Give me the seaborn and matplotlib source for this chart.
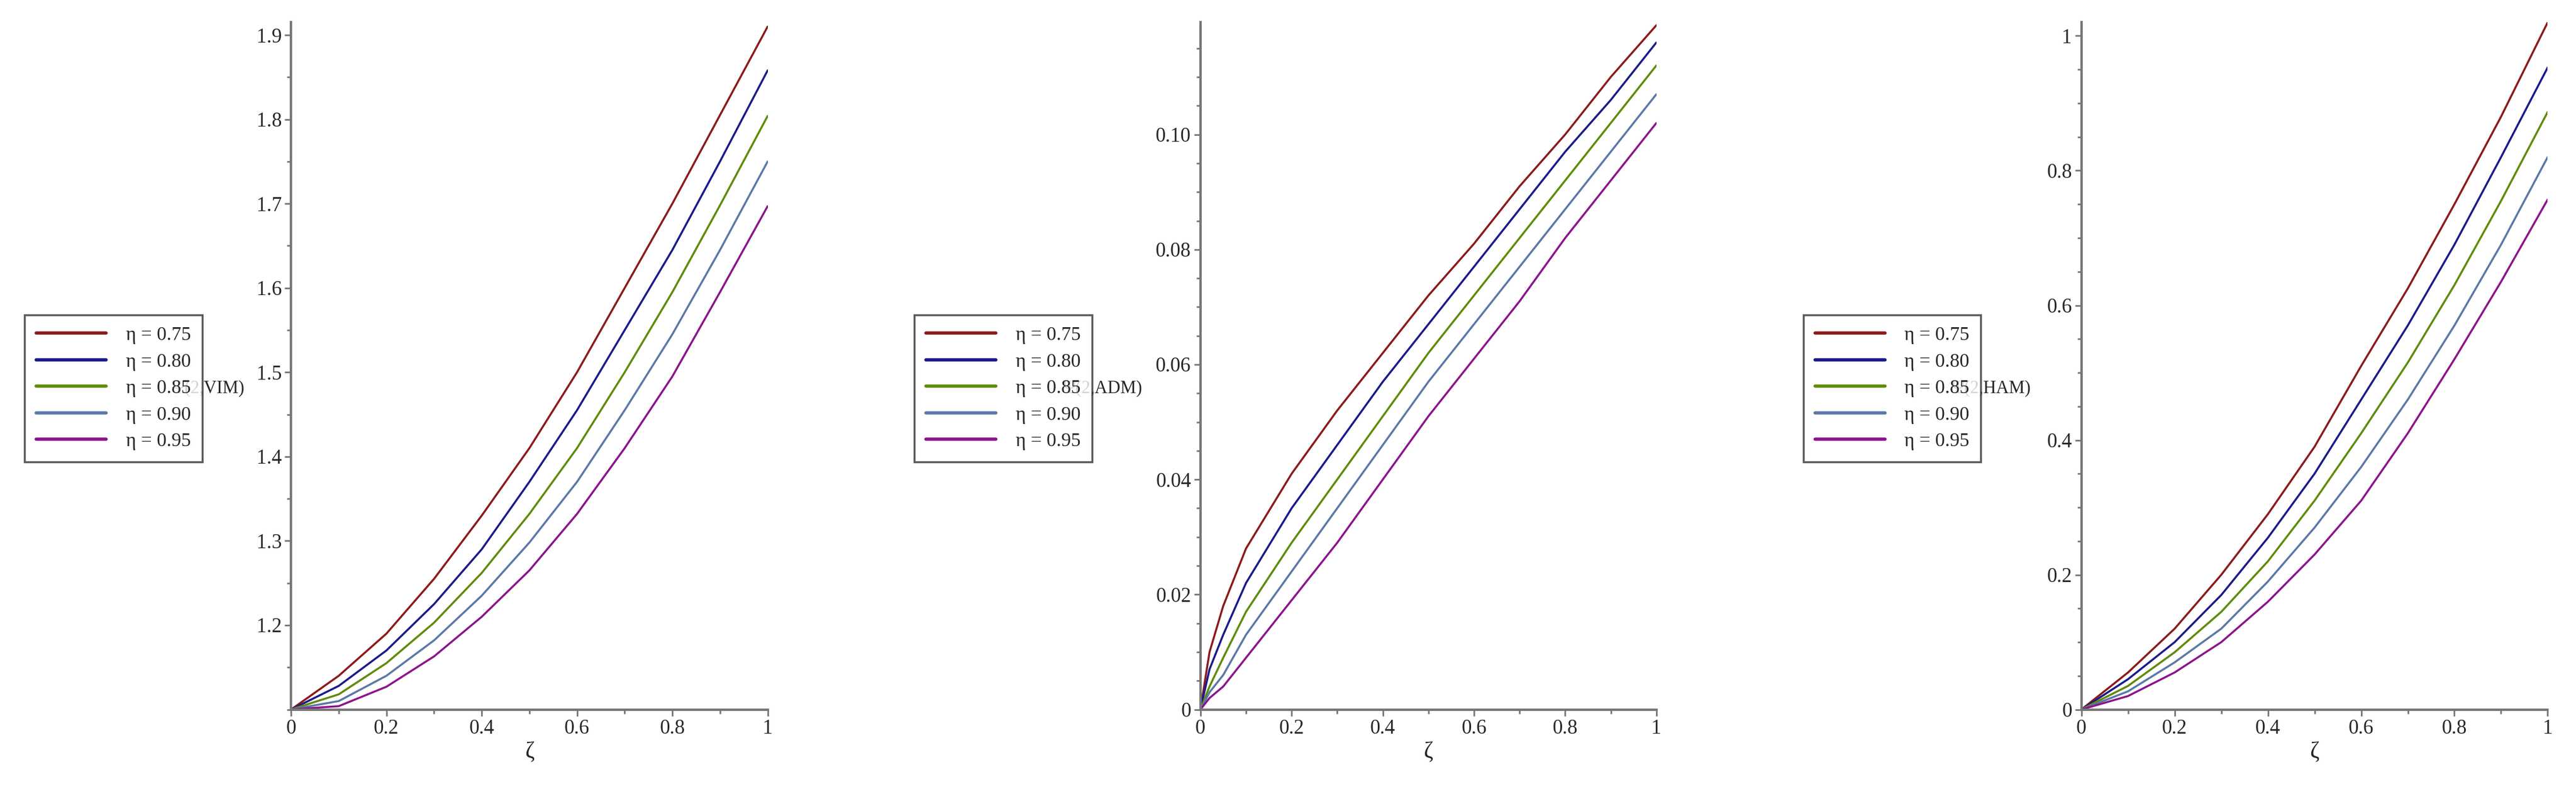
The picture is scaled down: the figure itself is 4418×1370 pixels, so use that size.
import numpy as np
import pandas as pd
import matplotlib
matplotlib.use("Agg")
import matplotlib.pyplot as plt
import seaborn as sns
from matplotlib.ticker import MultipleLocator

zeta = [0, 0.1, 0.2, 0.3, 0.4, 0.5, 0.6, 0.7, 0.8, 0.9, 1.0]
zeta_adm = [0, 0.02, 0.05, 0.1, 0.2, 0.3, 0.4, 0.5, 0.6, 0.7, 0.8, 0.9, 1.0]
etas = ["η = 0.75", "η = 0.80", "η = 0.85", "η = 0.90", "η = 0.95"]
colors = ["#8b1a1a", "#1a1a8b", "#5f8b0a", "#5a78a8", "#8b148b"]

vim = [
    [1.10, 1.140, 1.190, 1.255, 1.330, 1.410, 1.500, 1.600, 1.700, 1.805, 1.910],
    [1.10, 1.128, 1.170, 1.225, 1.290, 1.370, 1.455, 1.550, 1.645, 1.750, 1.858],
    [1.10, 1.118, 1.155, 1.203, 1.262, 1.332, 1.410, 1.500, 1.595, 1.698, 1.804],
    [1.10, 1.110, 1.140, 1.182, 1.235, 1.298, 1.370, 1.455, 1.545, 1.645, 1.750],
    [1.10, 1.104, 1.127, 1.163, 1.210, 1.265, 1.332, 1.410, 1.495, 1.595, 1.697],
]
adm = [
    [0, 0.010, 0.018, 0.028, 0.041, 0.052, 0.062, 0.072, 0.081, 0.091, 0.100, 0.110, 0.119],
    [0, 0.007, 0.013, 0.022, 0.035, 0.046, 0.057, 0.067, 0.077, 0.087, 0.097, 0.106, 0.116],
    [0, 0.004, 0.009, 0.017, 0.029, 0.040, 0.051, 0.062, 0.072, 0.082, 0.092, 0.102, 0.112],
    [0, 0.003, 0.006, 0.013, 0.024, 0.035, 0.046, 0.057, 0.067, 0.077, 0.087, 0.097, 0.107],
    [0, 0.002, 0.004, 0.009, 0.019, 0.029, 0.040, 0.051, 0.061, 0.071, 0.082, 0.092, 0.102],
]
ham = [
    [0, 0.055, 0.120, 0.200, 0.290, 0.390, 0.510, 0.625, 0.750, 0.880, 1.020],
    [0, 0.045, 0.100, 0.170, 0.255, 0.350, 0.460, 0.570, 0.690, 0.820, 0.953],
    [0, 0.035, 0.085, 0.145, 0.220, 0.310, 0.410, 0.515, 0.630, 0.755, 0.887],
    [0, 0.027, 0.070, 0.120, 0.190, 0.270, 0.360, 0.460, 0.570, 0.690, 0.820],
    [0, 0.020, 0.055, 0.100, 0.160, 0.230, 0.310, 0.410, 0.520, 0.635, 0.757],
]

sns.set_style("ticks")
plt.rcParams["font.family"] = ["Liberation Serif", "DejaVu Serif"]

fig = plt.figure(figsize=(44.18, 13.7), dpi=100)

# axes x0, width, legend left, label centre (figure fractions)
panels = [
    (zeta, vim, "Ψ(2,VIM)", 0.113, 0.185, 0.0096, 0.081, (1.1, 1.915), 0.1, 0.05,
     [1.2, 1.3, 1.4, 1.5, 1.6, 1.7, 1.8, 1.9]),
    (zeta_adm, adm, "Ψ(2,ADM)", 0.466, 0.177, 0.355, 0.428, (0, 0.1195), 0.02, 0.005,
     [0, 0.02, 0.04, 0.06, 0.08, 0.10]),
    (zeta, ham, "Ψ(2,HAM)", 0.808, 0.181, 0.700, 0.773, (0, 1.02), 0.2, 0.05,
     [0, 0.2, 0.4, 0.6, 0.8, 1]),
]

for xs, series, ylab, x0, w, lx, tx, ylim, major, minor, yt in panels:
    ax = fig.add_axes([x0, 0.112, w, 0.86])
    rows = []
    for eta, ys in zip(etas, series):
        for x, y in zip(xs, ys):
            rows.append({"zeta": x, "psi": y, "eta": eta})
    df = pd.DataFrame(rows)
    sns.lineplot(data=df, x="zeta", y="psi", hue="eta", palette=colors,
                 linewidth=2.5, ax=ax, legend=True)
    ax.set_xlim(0, 1)
    ax.set_ylim(*ylim)
    ax.set_xticks([0, 0.2, 0.4, 0.6, 0.8, 1])
    ax.set_xticklabels(["0", "0.2", "0.4", "0.6", "0.8", "1"])
    ax.xaxis.set_minor_locator(MultipleLocator(0.1))
    ax.set_yticks(yt)
    ax.set_yticklabels([f"{v:g}" if v in (0, 1) else (f"{v:.2f}" if major < 0.1 else f"{v:.1f}") for v in yt])
    ax.yaxis.set_minor_locator(MultipleLocator(minor))
    sns.despine(ax=ax)
    for s in ["left", "bottom"]:
        ax.spines[s].set_linewidth(3)
        ax.spines[s].set_color("#777777")
    ax.tick_params(labelsize=25, width=2, length=8, color="#777777")
    ax.tick_params(which="minor", width=2, length=5, color="#777777")
    ax.set_xlabel("ζ", fontsize=28)
    ax.set_ylabel("")
    fig.text(tx, 0.514, ylab, fontsize=22, ha="center", va="center")
    handles, labels = ax.get_legend_handles_labels()
    ax.get_legend().remove()
    leg = fig.legend(handles, labels, loc="center left", bbox_to_anchor=(lx, 0.514),
                     fontsize=24, frameon=True, fancybox=False, edgecolor="#333333",
                     handlelength=3.6, handletextpad=1.0, borderpad=0.6,
                     labelspacing=0.45, borderaxespad=0)
    leg.get_frame().set_linewidth(2.5)
    for line in leg.get_lines():
        line.set_linewidth(4)

fig.savefig("out.png", dpi=100)
